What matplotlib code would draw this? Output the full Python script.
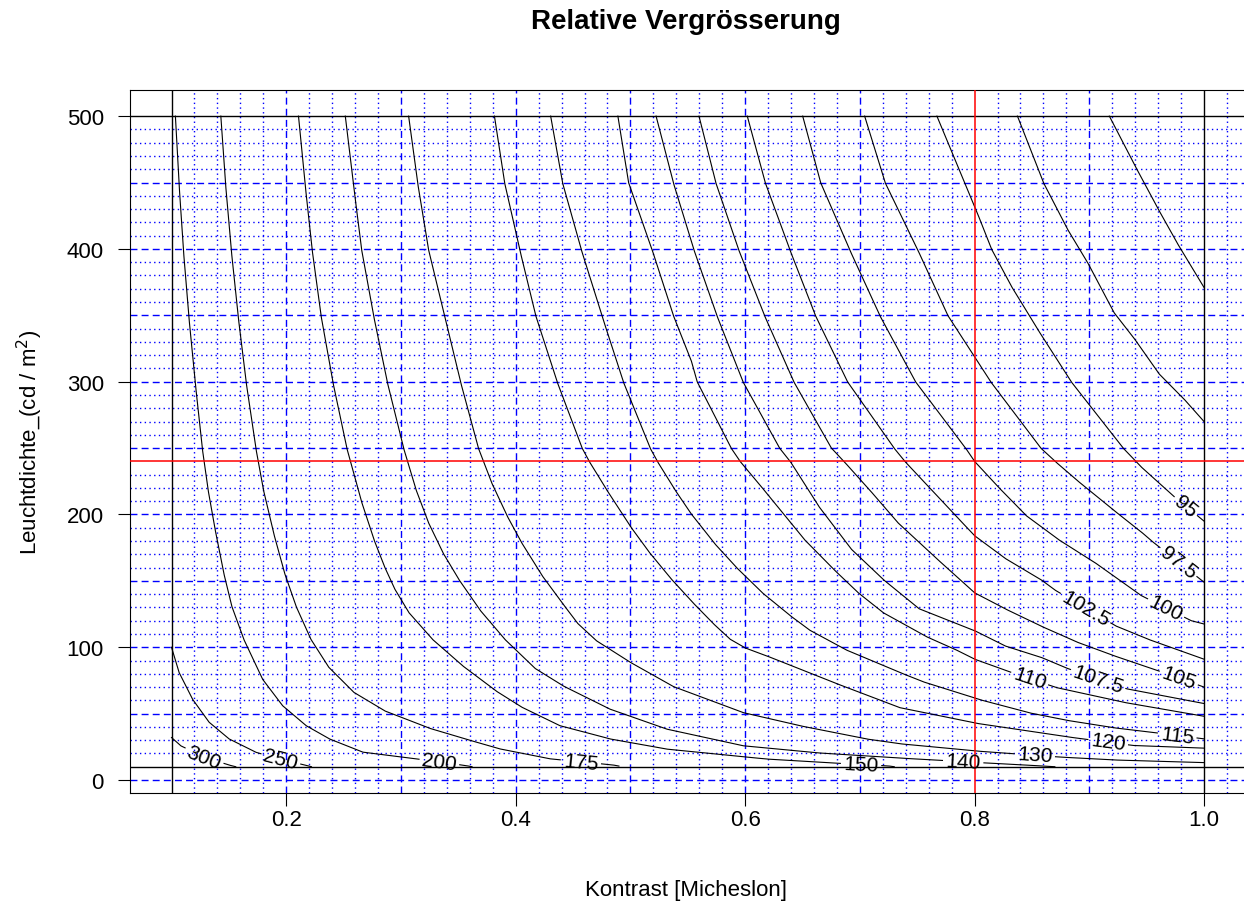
import matplotlib

matplotlib.use("Agg")
import matplotlib.pyplot as plt
import numpy as np

plt.rcParams["font.family"] = ["Liberation Sans", "DejaVu Sans"]

# ranges of the computed field and the marked working point
X_MIN, X_MAX = 0.1, 1.0
Y_MIN, Y_MAX = 10, 500
MARK_X, MARK_Y = 0.8, 240

X_TICKS = [0.2, 0.4, 0.6, 0.8, 1.0]
X_TICK_LABELS = ["0.2", "0.4", "0.6", "0.8", "1.0"]
Y_TICKS = [0, 100, 200, 300, 400, 500]

# contour lines (x = Kontrast, y = Leuchtdichte)
c300_x = [0.100, 0.108, 0.128, 0.150, 0.156]
c300_y = [32, 25.8, 17.5, 11.3, 10]

c250_x = [0.100, 0.1066, 0.1182, 0.1328, 0.1503, 0.1735, 0.1952, 0.2186, 0.222]
c250_y = [100, 81, 61, 43.5, 30.9, 20.9, 15.5, 10.8, 10]

c200_x = [0.1034, 0.1065, 0.1103, 0.1150, 0.1206, 0.1268, 0.1318, 0.1375, 0.1455,
          0.1525, 0.1630, 0.1793, 0.1968, 0.2172, 0.2375, 0.2666, 0.3102, 0.3570,
          0.3620]
c200_y = [500, 450, 400, 350, 300, 250, 219, 191, 156, 131, 106, 76, 56, 41, 31, 21,
          16.3, 10.8, 10]

c175_x = [0.143, 0.147, 0.152, 0.158, 0.165, 0.1735, 0.1800, 0.1890, 0.1985, 0.2085,
          0.2215, 0.2370, 0.2590, 0.2860, 0.3248, 0.3538, 0.3858, 0.4294, 0.4850,
          0.4900]
c175_y = [500, 450, 400, 350, 300, 250, 219, 186, 156, 131, 106, 85, 66, 52, 39,
          31.5, 23.5, 16, 11.3, 10.5]

c150_x = [0.2107, 0.2163, 0.2225, 0.2303, 0.2406, 0.2528, 0.2655, 0.2765, 0.2855,
          0.2945, 0.3070, 0.3274, 0.3538, 0.3830, 0.4050, 0.4382, 0.4818, 0.5313,
          0.5749, 0.6185, 0.6767, 0.7250, 0.7300]
c150_y = [500, 450, 400, 350, 300, 250, 210, 181, 161, 144, 126, 106, 86, 67, 55,
          41, 31, 23.3, 19.6, 15.8, 12.8, 10.6, 10]

c140_x = [0.2515, 0.2584, 0.2656, 0.2761, 0.2880, 0.3023, 0.3130, 0.3239, 0.3367,
          0.3505, 0.3689, 0.3905, 0.4170, 0.4411, 0.4818, 0.5313, 0.5981, 0.6621,
          0.7348, 0.7667, 0.8104, 0.8400, 0.8700]
c140_y = [500, 450, 400, 350, 300, 250, 219, 194, 171, 151, 128, 106, 84, 71, 53.5,
          38.4, 25.8, 20.5, 16.5, 15, 12.8, 11.5, 10]

c130_x = [0.3067, 0.3145, 0.3239, 0.3379, 0.3519, 0.3675, 0.3790, 0.3925, 0.4050,
          0.4230, 0.4400, 0.4540, 0.4702, 0.4992, 0.5371, 0.5981, 0.6476, 0.7058,
          0.7348, 0.8017, 0.8740, 0.9208, 1.0]
c130_y = [500, 450, 400, 350, 300, 250, 224, 199, 179, 154, 134, 118, 105, 89, 70.5,
          50.8, 40.9, 30.9, 27.3, 21.8, 17.3, 15.1, 13.1]

c120_x = [0.3815, 0.3903, 0.4034, 0.4174, 0.4361, 0.4579, 0.4641, 0.4790, 0.5000,
          0.5160, 0.5350, 0.5540, 0.5720, 0.5870, 0.6000, 0.6185, 0.6767, 0.7348,
          0.8017, 0.8801, 0.9383, 1.0]
c120_y = [500, 450, 400, 350, 300, 250, 240, 219, 191, 172, 152, 134, 118, 106,
          99.5, 93.6, 73.6, 54.5, 42.7, 32.6, 26, 24]

c115_x = [0.4305, 0.4408, 0.4570, 0.4751, 0.4938, 0.5172, 0.5235, 0.5385, 0.5525,
          0.5735, 0.5925, 0.6150, 0.6390, 0.6560, 0.6880, 0.7348, 0.7551, 0.8046,
          0.8482, 0.8801, 0.9208, 0.9586, 1.0]
c115_y = [500, 450, 400, 350, 300, 250, 240, 219, 201, 178, 160, 141, 124, 113, 98,
          81, 74, 60.5, 50.5, 45, 39.4, 35.5, 31]

c110_x = [0.4891, 0.4984, 0.5187, 0.5374, 0.5530, 0.5582, 0.5878, 0.5956, 0.6112,
          0.6518, 0.6768, 0.6986, 0.7204, 0.7579, 0.7828, 0.8000, 0.8278, 0.8714,
          0.9300, 1.0]
c110_y = [500, 450, 400, 350, 316, 300, 250, 240, 224, 181, 159, 141, 126, 108,
          98.5, 91, 82.3, 69.6, 58.5, 48]

c107_x = [0.5224, 0.5374, 0.5551, 0.5753, 0.5981, 0.6300, 0.6393, 0.6643, 0.6924,
          0.7204, 0.7516, 0.8000, 0.8265, 0.8577, 0.8801, 0.9325, 1.0]
c107_y = [500, 450, 400, 350, 300, 250, 240, 206, 174, 151, 129, 112.5, 101, 92.5,
          84.3, 68.7, 57.6]

c105_x = [0.5598, 0.5744, 0.5941, 0.6168, 0.6424, 0.6752, 0.6861, 0.7080, 0.7329,
          0.7641, 0.8000, 0.8265, 0.8577, 0.8889, 0.9201, 0.9544, 1.0]
c105_y = [500, 450, 400, 350, 300, 250, 240, 219, 194, 169, 141, 129, 116, 104, 94,
          84, 70]

c102_x = [0.6019, 0.6175, 0.6387, 0.6612, 0.6892, 0.7298, 0.7392, 0.7641, 0.8000,
          0.8265, 0.8577, 0.8702, 0.9232, 0.9513, 1.0]
c102_y = [500, 450, 400, 350, 300, 250, 240, 217, 184, 167, 151, 143, 116, 106, 91]

c100_x = [0.6502, 0.6658, 0.6908, 0.7173, 0.7485, 0.7922, 0.8000, 0.8203, 0.8452,
          0.8733, 0.9045, 0.9451, 0.9888, 1.0]
c100_y = [500, 450, 400, 350, 300, 250, 240, 221, 199, 181, 164, 139, 120, 117.5]

c97_x = [0.7042, 0.7220, 0.7501, 0.7766, 0.8140, 0.8577, 0.8702, 0.8889, 0.9201,
         0.9451, 0.9544, 1.0]
c97_y = [500, 450, 400, 350, 300, 250, 240, 226, 204, 187, 180, 149]

c95_x = [0.7672, 0.8022, 0.8147, 0.8320, 0.8546, 0.8842, 0.9295, 0.9450, 0.9732, 1.0]
c95_y = [500, 427.5, 400, 372, 340, 300, 250, 236, 214, 195]

c92_x = [0.8374, 0.8600, 0.8809, 0.8984, 0.9216, 0.9388, 0.9607, 0.9825, 1.0]
c92_y = [500, 450, 415, 390, 352, 333, 306, 287, 270]

c90_x = [0.9175, 0.9384, 0.9588, 0.9762, 1.0]
c90_y = [500, 465, 432, 405, 371]

# label text and the x position where R put it on each line (None = unlabelled)
LEVEL_TEXT = ["300", "250", "200", "175", "150", "140", "130", "120", "115", "110",
              "107.5", "105", "102.5", "100", "97.5", "95", None, None]
LABEL_X = [0.1284, 0.1952, 0.3335, 0.457, 0.7012, 0.79, 0.8526, 0.9165, 0.9767,
           0.8482, 0.9078, 0.9782, 0.8967, 0.9669, 0.9778, 0.9841, None, None]

LINES = [(c300_x, c300_y), (c250_x, c250_y), (c200_x, c200_y), (c175_x, c175_y),
         (c150_x, c150_y), (c140_x, c140_y), (c130_x, c130_y), (c120_x, c120_y),
         (c115_x, c115_y), (c110_x, c110_y), (c107_x, c107_y), (c105_x, c105_y),
         (c102_x, c102_y), (c100_x, c100_y), (c97_x, c97_y), (c95_x, c95_y),
         (c92_x, c92_y), (c90_x, c90_y)]

W, H = 1244, 903
fig = plt.figure(figsize=(W / 100, H / 100), dpi=100)
# plot region as in the reference; the right edge runs just past the image
ax = fig.add_axes([130.2 / W, 1 - 793.75 / H, 1115.1 / W, 702.65 / H])

# R-style 4% padding around the data range
dx = (X_MAX - X_MIN) * 0.04
dy = (Y_MAX - Y_MIN) * 0.04
ax.set_xlim(X_MIN - dx, X_MAX + dx)
ax.set_ylim(Y_MIN - dy, Y_MAX + dy)

# blue helper grid: every 0.02 / 10, dashed on the round values
# (skipped where a black or red line is drawn on top anyway)
solid_v = (X_MIN, X_MAX, MARK_X)
solid_h = (Y_MIN, Y_MAX, MARK_Y)
for v in np.arange(0.1, 1.1001, 0.02):
    if any(abs(v - s) < 1e-6 for s in solid_v):
        continue
    major = round(v * 50) % 5 == 0
    ax.axvline(v, color="blue", lw=1.0, zorder=1,
               ls=(0, (5, 3)) if major else (0, (1, 2.4)))
for h in np.arange(0, 501, 10):
    if h in solid_h:
        continue
    major = h % 50 == 0
    ax.axhline(h, color="blue", lw=1.0, zorder=1,
               ls=(0, (5, 3)) if major else (0, (1, 2.4)))

renderer = fig.canvas.get_renderer()


def draw_line(xs, ys, text, lab_x):
    xs = np.asarray(xs, float)
    ys = np.asarray(ys, float)
    pts = ax.transData.transform(np.column_stack([xs, ys]))
    seg = np.hypot(*np.diff(pts, axis=0).T)
    s = np.concatenate([[0.0], np.cumsum(seg)])
    t = np.linspace(0.0, s[-1], max(int(s[-1] * 2), 2))
    dense = np.column_stack([np.interp(t, s, pts[:, 0]), np.interp(t, s, pts[:, 1])])
    keep = np.ones(len(t), bool)
    if text is not None:
        lab_y = np.interp(lab_x, xs, ys)
        cx, cy = ax.transData.transform((lab_x, lab_y))
        d = np.hypot(dense[:, 0] - cx, dense[:, 1] - cy)
        i = int(np.argmin(d))
        j0, j1 = max(i - 12, 0), min(i + 12, len(t) - 1)
        ang = np.degrees(np.arctan2(dense[j1, 1] - dense[j0, 1],
                                    dense[j1, 0] - dense[j0, 0]))
        txt = ax.text(lab_x, lab_y, text, ha="center", va="center", fontsize=15,
                      rotation_mode="anchor", zorder=4)
        w = txt.get_window_extent(renderer).width
        txt.set_rotation(ang)
        keep = d > w / 2 + 3
    back = ax.transData.inverted().transform(dense)
    ax.plot(np.where(keep, back[:, 0], np.nan), np.where(keep, back[:, 1], np.nan),
            color="black", lw=0.8, zorder=2)


for (xs, ys), text, lab_x in zip(LINES, LEVEL_TEXT, LABEL_X):
    draw_line(xs, ys, text, lab_x)

# limits of the computed field and the marked point
for v in (X_MIN, X_MAX):
    ax.axvline(v, color="black", lw=1.0, zorder=3)
for h in (Y_MIN, Y_MAX):
    ax.axhline(h, color="black", lw=1.0, zorder=3)
ax.axvline(MARK_X, color="red", lw=1.1, zorder=3)
ax.axhline(MARK_Y, color="red", lw=1.1, zorder=3)

ax.set_xticks(X_TICKS)
ax.set_xticklabels(X_TICK_LABELS)
ax.set_yticks(Y_TICKS)
ax.tick_params(direction="out", length=9, width=0.8, labelsize=16)
ax.tick_params(axis="x", pad=3)
ax.tick_params(axis="y", pad=10)
for sp in ax.spines.values():
    sp.set_color("black")
    sp.set_linewidth(0.8)

fig.text(686 / W, 1 - 22 / H, "Relative Vergrösserung", ha="center", va="center",
         fontsize=20, fontweight="bold")
fig.text(686 / W, 1 - 891 / H, "Kontrast [Micheslon]", ha="center", va="center",
         fontsize=16)
fig.text(30 / W, 1 - 442 / H, "Leuchtdichte_(cd / m$^2$)", ha="center", va="center",
         rotation=90, fontsize=16)

fig.savefig("out.png", dpi=100)
